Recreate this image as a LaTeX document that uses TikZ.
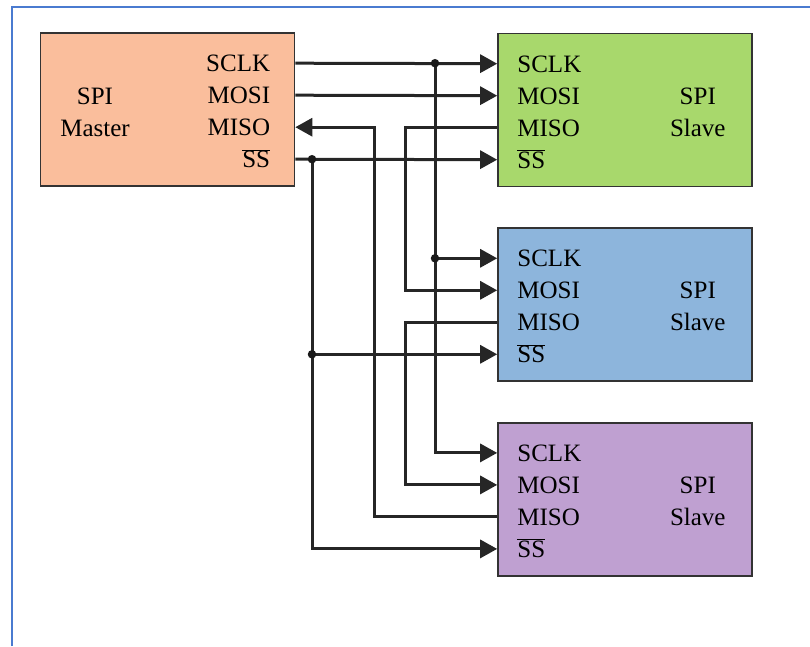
\documentclass[tikz,border=0pt]{standalone}
\usepackage{fontspec}
\setmainfont{Liberation Serif}
\usetikzlibrary{arrows.meta, positioning}

\definecolor{masterfill}{RGB}{250,190,156}
\definecolor{greenfill}{RGB}{168,216,108}
\definecolor{bluefill}{RGB}{141,181,220}
\definecolor{purplefill}{RGB}{191,160,209}
\definecolor{framecol}{RGB}{74,123,208}

\begin{document}
\begin{tikzpicture}[x=1pt, y=-1pt, >={Triangle[length=17pt,width=18pt]},
	chip/.style={draw=black!80, line width=1.6pt, minimum width=254pt, minimum height=153pt, inner sep=0pt},
	sig/.style={font=\fontsize{25}{30}\selectfont, text=black, inner sep=0pt, text height=17pt, text depth=0pt},
	wire/.style={line width=3pt, black!85},
	junction/.style={circle, fill=black!90, inner sep=0pt, minimum size=8.5pt}]
		
		\useasboundingbox (0,0) rectangle (810,646);
		\draw[framecol, line width=2pt] (12,646) -- (12,7) -- (810,7);
		
		\node[chip, fill=masterfill] (master) at (167.5,109.5) {};
		\node[chip, fill=greenfill] (slave1) at (625,110) {};
		\node[chip, fill=bluefill, below=40pt of slave1] (slave2) {};
		\node[chip, fill=purplefill, below=40pt of slave2] (slave3) {};
		
		\node[sig] (m-spi) at (95,96) {SPI};
		\node[sig] (m-master) at (95,128) {Master};
		\node[sig, anchor=east] (m-sclk) at ([shift={(-25,31)}]master.north east) {SCLK};
		\node[sig, anchor=east] (m-mosi) at ([shift={(-25,63)}]master.north east) {MOSI};
		\node[sig, anchor=east] (m-miso) at ([shift={(-25,95)}]master.north east) {MISO};
		\node[sig, anchor=east] (m-ss) at ([shift={(-25,127)}]master.north east) {$\overline{\hbox{SS}}$};
		\foreach \p in {sclk, mosi, miso, ss}
			\coordinate (m-\p-pin) at (master.east |- m-\p);
		
		\foreach \s in {1,2,3} {
			\node[sig, anchor=west] (s\s-sclk) at ([shift={(20,31)}]slave\s.north west) {SCLK};
			\node[sig, anchor=west] (s\s-mosi) at ([shift={(20,63)}]slave\s.north west) {MOSI};
			\node[sig, anchor=west] (s\s-miso) at ([shift={(20,95)}]slave\s.north west) {MISO};
			\node[sig, anchor=west] (s\s-ss) at ([shift={(20,127)}]slave\s.north west) {$\overline{\hbox{SS}}$};
			\node[sig] (s\s-spi) at ([shift={(-55,63)}]slave\s.north east) {SPI};
			\node[sig] (s\s-slave) at ([shift={(-55,95)}]slave\s.north east) {Slave};
			\foreach \p in {sclk, mosi, miso, ss}
				\coordinate (s\s-\p-pin) at (slave\s.west |- s\s-\p);
		}
		
		\coordinate (busSS) at (312,0);
		\coordinate (busMISO) at (374,0);
		\coordinate (busMOSI) at (405,0);
		\coordinate (busSCLK) at (435,0);
		
		\draw[wire, ->] (m-sclk-pin) -- (s1-sclk-pin);
		\draw[wire, ->] (busSCLK |- m-sclk-pin) |- (s3-sclk-pin);
		\draw[wire, ->] (busSCLK |- s2-sclk-pin) -- (s2-sclk-pin);
		
		\draw[wire, ->] (m-mosi-pin) -- (s1-mosi-pin);
		\draw[wire, ->] (s1-miso-pin) -- (busMOSI |- s1-miso-pin) |- (s2-mosi-pin);
		\draw[wire, ->] (s2-miso-pin) -- (busMOSI |- s2-miso-pin) |- (s3-mosi-pin);
		\draw[wire, ->] (s3-miso-pin) -- (busMISO |- s3-miso-pin) |- (m-miso-pin);
		
		\draw[wire, ->] (m-ss-pin) -- (s1-ss-pin);
		\draw[wire, ->] (busSS |- m-ss-pin) |- (s3-ss-pin);
		\draw[wire, ->] (busSS |- s2-ss-pin) -- (s2-ss-pin);
		
		\node[junction] at (busSCLK |- m-sclk-pin) {};
		\node[junction] at (busSCLK |- s2-sclk-pin) {};
		\node[junction] at (busSS |- m-ss-pin) {};
		\node[junction] at (busSS |- s2-ss-pin) {};
		
\end{tikzpicture}
\end{document}
